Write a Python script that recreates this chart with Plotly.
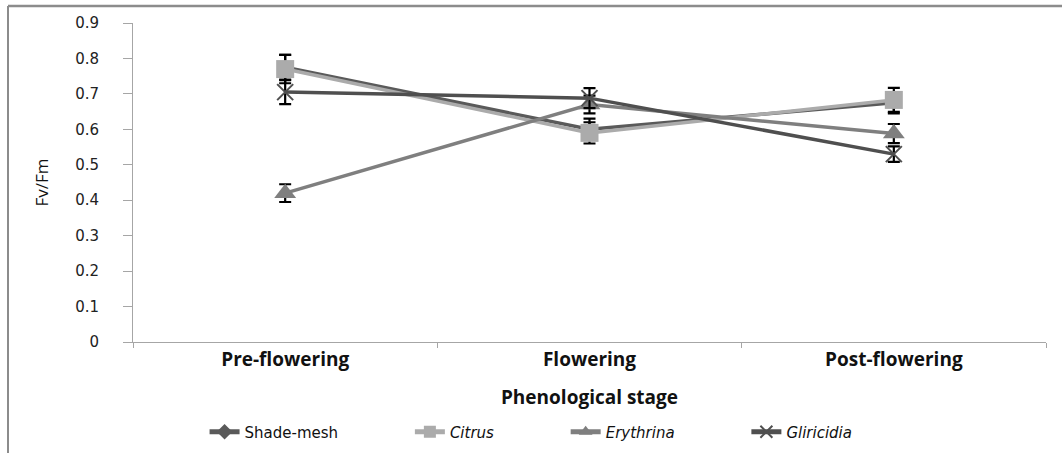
import plotly.graph_objects as go

stages = ["Pre-flowering", "Flowering", "Post-flowering"]
stage_pos = [0, 1, 2]

shade_mesh = [0.775, 0.600, 0.675]
shade_mesh_err = [0.035, 0.030, 0.030]
citrus = [0.770, 0.590, 0.683]
citrus_err = [0.040, 0.030, 0.034]
erythrina = [0.420, 0.670, 0.588]
erythrina_err = [0.025, 0.025, 0.027]
gliricidia = [0.705, 0.688, 0.530]
gliricidia_err = [0.034, 0.028, 0.022]

y_ticks = [0, 0.1, 0.2, 0.3, 0.4, 0.5, 0.6, 0.7, 0.8, 0.9]
y_ticktext = ["0", "0.1", "0.2", "0.3", "0.4", "0.5", "0.6", "0.7", "0.8", "0.9"]

W, H = 1062, 453
ML, MR, MT, MB = 133, 16, 23, 111
PW, PH = W - ML - MR, H - MT - MB

PAD = "&nbsp;" * 14
series = [
    ("Shade-mesh" + PAD, shade_mesh, shade_mesh_err, "#5a5a5a", dict(symbol="diamond", size=11)),
    ("<i>Citrus</i>" + PAD, citrus, citrus_err, "#ababab", dict(symbol="square", size=18)),
    ("<i>Erythrina</i>" + PAD, erythrina, erythrina_err, "#7f7f7f", dict(symbol="triangle-up", size=19)),
    ("<i>Gliricidia</i>", gliricidia, gliricidia_err, "#4f4f4f", dict(symbol="x-thin", size=16)),
]

fig = go.Figure()
for name, vals, errs, col, mk in series:
    marker = dict(color=col, symbol=mk["symbol"], size=mk["size"])
    if mk["symbol"] == "x-thin":
        marker["line"] = dict(color=col, width=2)
    fig.add_trace(go.Scatter(
        x=stage_pos, y=vals, name=name, mode="lines+markers",
        line=dict(color=col, width=3.5),
        marker=marker,
        error_y=dict(type="data", array=errs, visible=True, color="#000000",
                     thickness=2.2, width=6),
    ))

fig.update_layout(
    width=W, height=H,
    margin=dict(l=ML, r=MR, t=MT, b=MB, autoexpand=False),
    paper_bgcolor="white", plot_bgcolor="white",
    showlegend=True,
    legend=dict(orientation="h", x=0.436, xanchor="center", y=-0.282, yanchor="middle",
                font=dict(family="DejaVu Sans", size=15, color="#111111"),
                itemsizing="constant", tracegroupgap=0),
    xaxis=dict(
        range=[-0.5, 2.5], tickmode="array", tickvals=stage_pos, ticktext=stages,
        ticks="", showline=True, linecolor="#a6a6a6", linewidth=1,
        showgrid=False, zeroline=False, automargin=False,
        tickfont=dict(family="Open Sans", size=19, color="#111111", weight="bold"),
        minor=dict(tickmode="array", tickvals=[-0.5, 0.5, 1.5, 2.5], ticks="outside",
                   ticklen=5, tickcolor="#a6a6a6", showgrid=False),
        title=dict(text="<b>Phenological stage</b>", font=dict(family="Open Sans", size=19, color="#111111"),
                   standoff=19),
    ),
    yaxis=dict(
        range=[0, 0.9], tickmode="array", tickvals=y_ticks, ticktext=y_ticktext,
        ticks="outside", ticklen=9, tickcolor="#a6a6a6", ticklabelstandoff=21,
        showline=True, linecolor="#a6a6a6", linewidth=1,
        showgrid=False, zeroline=False, automargin=False,
        tickfont=dict(family="DejaVu Sans", size=15, color="#222222"),
        title=dict(text="Fv/Fm", font=dict(family="Open Sans", size=17, color="#111111"), standoff=22),
    ),
)

# outer frame (left and top edges)
x_left = (8 - ML) / PW
y_top = (H - MB - 6) / PH
y_bot = (H - MB - H - 10) / PH
x_right = (W - ML + 10) / PW
fig.add_shape(type="line", xref="paper", yref="paper", x0=x_left, x1=x_left,
              y0=y_bot, y1=y_top, line=dict(color="#8c8c8c", width=2))
fig.add_shape(type="line", xref="paper", yref="paper", x0=x_left, x1=x_right,
              y0=y_top, y1=y_top, line=dict(color="#8c8c8c", width=2.5))

fig.write_html("out.html")
